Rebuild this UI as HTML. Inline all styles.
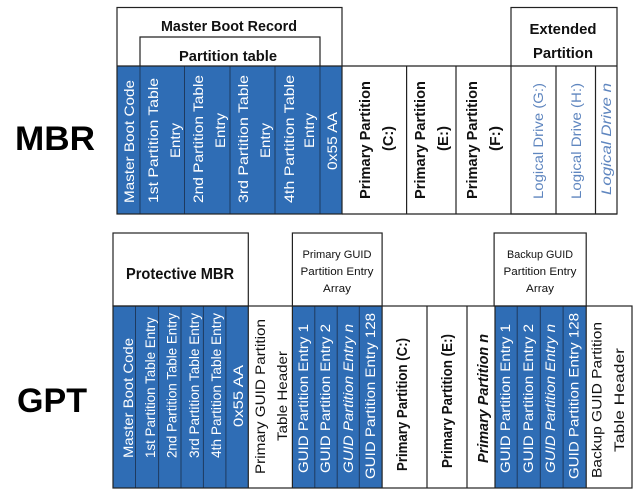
<!DOCTYPE html>
<html><head><meta charset="utf-8"><style>
html,body{margin:0;padding:0;background:#fff;}
svg{display:block;font-family:"Liberation Sans",sans-serif;}
</style></head><body>
<svg width="640" height="497" viewBox="0 0 640 497" xmlns="http://www.w3.org/2000/svg">
<g fill="#000">
<text x="15" y="150" font-size="34" font-weight="bold" textLength="80" lengthAdjust="spacingAndGlyphs">MBR</text>
<text x="17" y="412" font-size="34" font-weight="bold" textLength="70" lengthAdjust="spacingAndGlyphs">GPT</text>
</g>
<!-- MBR -->
<rect x="117" y="66" width="225" height="148" fill="#2f6db5"/>
<g stroke="#1e3a5f" stroke-width="1">
<line x1="140" y1="66" x2="140" y2="214"/><line x1="184.5" y1="66" x2="184.5" y2="214"/>
<line x1="230" y1="66" x2="230" y2="214"/><line x1="275" y1="66" x2="275" y2="214"/>
<line x1="320" y1="66" x2="320" y2="214"/>
</g>
<g stroke="#222" stroke-width="1.2" fill="none">
<rect x="117" y="7.5" width="225" height="206.5"/>
<polyline points="140,66 140,37 320,37 320,66"/>
<line x1="117" y1="66" x2="617" y2="66"/>
<rect x="511" y="7.5" width="106" height="206.5"/>
<line x1="342" y1="214" x2="617" y2="214"/>
<line x1="406.6" y1="66" x2="406.6" y2="214"/><line x1="456" y1="66" x2="456" y2="214"/>
<line x1="556" y1="66" x2="556" y2="214"/><line x1="595.5" y1="66" x2="595.5" y2="214"/>
</g>
<g font-size="15" font-weight="bold" text-anchor="middle" fill="#111">
<text x="229" y="31" textLength="136" lengthAdjust="spacingAndGlyphs">Master Boot Record</text>
<text x="228" y="61" textLength="98" lengthAdjust="spacingAndGlyphs">Partition table</text>
<text x="563" y="34" textLength="67" lengthAdjust="spacingAndGlyphs">Extended</text>
<text x="563" y="58" textLength="60" lengthAdjust="spacingAndGlyphs">Partition</text>
</g>
<g font-size="14" fill="#fff">
<text transform="translate(134,203) rotate(-90)" textLength="123" lengthAdjust="spacingAndGlyphs">Master Boot Code</text>
<text transform="translate(158,203) rotate(-90)" textLength="125" lengthAdjust="spacingAndGlyphs">1st Partition Table</text>
<text transform="translate(180,158) rotate(-90)" textLength="35" lengthAdjust="spacingAndGlyphs">Entry</text>
<text transform="translate(203,203) rotate(-90)" textLength="128" lengthAdjust="spacingAndGlyphs">2nd Partition Table</text>
<text transform="translate(225,148) rotate(-90)" textLength="35" lengthAdjust="spacingAndGlyphs">Entry</text>
<text transform="translate(248,203) rotate(-90)" textLength="128" lengthAdjust="spacingAndGlyphs">3rd Partition Table</text>
<text transform="translate(270,158) rotate(-90)" textLength="35" lengthAdjust="spacingAndGlyphs">Entry</text>
<text transform="translate(294,203) rotate(-90)" textLength="128" lengthAdjust="spacingAndGlyphs">4th Partition Table</text>
<text transform="translate(314,148) rotate(-90)" textLength="35" lengthAdjust="spacingAndGlyphs">Entry</text>
<text transform="translate(337,170) rotate(-90)" textLength="58" lengthAdjust="spacingAndGlyphs">0x55 AA</text>
</g>
<g font-size="15" font-weight="bold" fill="#111">
<text transform="translate(370,199) rotate(-90)" textLength="118" lengthAdjust="spacingAndGlyphs">Primary Partition</text>
<text transform="translate(393,151) rotate(-90)" textLength="25" lengthAdjust="spacingAndGlyphs">(C:)</text>
<text transform="translate(425,199) rotate(-90)" textLength="118" lengthAdjust="spacingAndGlyphs">Primary Partition</text>
<text transform="translate(448,151) rotate(-90)" textLength="25" lengthAdjust="spacingAndGlyphs">(E:)</text>
<text transform="translate(477,199) rotate(-90)" textLength="118" lengthAdjust="spacingAndGlyphs">Primary Partition</text>
<text transform="translate(500,151) rotate(-90)" textLength="25" lengthAdjust="spacingAndGlyphs">(F:)</text>
</g>
<g font-size="14" fill="#5f86bf">
<text transform="translate(543,199) rotate(-90)" textLength="116" lengthAdjust="spacingAndGlyphs">Logical Drive (G:)</text>
<text transform="translate(581,199) rotate(-90)" textLength="116" lengthAdjust="spacingAndGlyphs">Logical Drive (H:)</text>
<text transform="translate(611,195) rotate(-90)" font-style="italic" textLength="112" lengthAdjust="spacingAndGlyphs">Logical Drive n</text>
</g>

<!-- GPT -->
<rect x="113" y="306" width="135.3" height="182" fill="#2f6db5"/>
<rect x="292.4" y="306" width="89.7" height="182" fill="#2f6db5"/>
<rect x="495" y="306" width="91.2" height="182" fill="#2f6db5"/>
<g stroke="#1e3a5f" stroke-width="1">
<line x1="135.5" y1="306" x2="135.5" y2="488"/><line x1="158.6" y1="306" x2="158.6" y2="488"/>
<line x1="181" y1="306" x2="181" y2="488"/><line x1="203.4" y1="306" x2="203.4" y2="488"/>
<line x1="225.9" y1="306" x2="225.9" y2="488"/>
<line x1="314.8" y1="306" x2="314.8" y2="488"/><line x1="337.2" y1="306" x2="337.2" y2="488"/>
<line x1="359.3" y1="306" x2="359.3" y2="488"/>
<line x1="517.2" y1="306" x2="517.2" y2="488"/><line x1="540.3" y1="306" x2="540.3" y2="488"/>
<line x1="563.1" y1="306" x2="563.1" y2="488"/>
</g>
<g stroke="#222" stroke-width="1.2" fill="none">
<rect x="113" y="306" width="519" height="182"/>
<rect x="113" y="233" width="135.3" height="73"/>
<rect x="292.4" y="233" width="89.7" height="73"/>
<rect x="494.1" y="233" width="92.1" height="73"/>
<line x1="248.3" y1="306" x2="248.3" y2="488"/><line x1="292.4" y1="306" x2="292.4" y2="488"/>
<line x1="382.1" y1="306" x2="382.1" y2="488"/><line x1="427" y1="306" x2="427" y2="488"/>
<line x1="467" y1="306" x2="467" y2="488"/><line x1="495" y1="306" x2="495" y2="488"/>
<line x1="586.2" y1="306" x2="586.2" y2="488"/>
</g>
<g text-anchor="middle" fill="#111">
<text x="180" y="279" font-size="16" font-weight="bold" textLength="108" lengthAdjust="spacingAndGlyphs">Protective MBR</text>
<g font-size="11">
<text x="337" y="258" textLength="69" lengthAdjust="spacingAndGlyphs">Primary GUID</text>
<text x="337" y="275" textLength="73" lengthAdjust="spacingAndGlyphs">Partition Entry</text>
<text x="337" y="292" textLength="28" lengthAdjust="spacingAndGlyphs">Array</text>
<text x="540" y="258" textLength="66" lengthAdjust="spacingAndGlyphs">Backup GUID</text>
<text x="540" y="275" textLength="73" lengthAdjust="spacingAndGlyphs">Partition Entry</text>
<text x="540" y="292" textLength="28" lengthAdjust="spacingAndGlyphs">Array</text>
</g>
</g>
<g font-size="14" fill="#fff">
<text transform="translate(133,458) rotate(-90)" textLength="120" lengthAdjust="spacingAndGlyphs">Master Boot Code</text>
<text transform="translate(155,458) rotate(-90)" textLength="141" lengthAdjust="spacingAndGlyphs">1st Partition Table Entry</text>
<text transform="translate(176.5,458) rotate(-90)" textLength="145" lengthAdjust="spacingAndGlyphs">2nd Partition Table Entry</text>
<text transform="translate(199,458) rotate(-90)" textLength="145" lengthAdjust="spacingAndGlyphs">3rd Partition Table Entry</text>
<text transform="translate(221,458) rotate(-90)" textLength="145" lengthAdjust="spacingAndGlyphs">4th Partition Table Entry</text>
<text transform="translate(243,427) rotate(-90)" textLength="62" lengthAdjust="spacingAndGlyphs">0x55 AA</text>
<text transform="translate(308,473) rotate(-90)" textLength="149" lengthAdjust="spacingAndGlyphs">GUID Partition Entry 1</text>
<text transform="translate(330,473) rotate(-90)" textLength="149" lengthAdjust="spacingAndGlyphs">GUID Partition Entry 2</text>
<text transform="translate(353,473) rotate(-90)" font-style="italic" textLength="149" lengthAdjust="spacingAndGlyphs">GUID Partition Entry n</text>
<text transform="translate(375,479) rotate(-90)" textLength="166" lengthAdjust="spacingAndGlyphs">GUID Partition Entry 128</text>
<text transform="translate(510,473) rotate(-90)" textLength="149" lengthAdjust="spacingAndGlyphs">GUID Partition Entry 1</text>
<text transform="translate(533,473) rotate(-90)" textLength="149" lengthAdjust="spacingAndGlyphs">GUID Partition Entry 2</text>
<text transform="translate(555,473) rotate(-90)" font-style="italic" textLength="149" lengthAdjust="spacingAndGlyphs">GUID Partition Entry n</text>
<text transform="translate(578.6,479) rotate(-90)" textLength="166" lengthAdjust="spacingAndGlyphs">GUID Partition Entry 128</text>
</g>
<g font-size="14" fill="#111">
<text transform="translate(265,474) rotate(-90)" textLength="155" lengthAdjust="spacingAndGlyphs">Primary GUID Partition</text>
<text transform="translate(287,441) rotate(-90)" textLength="90" lengthAdjust="spacingAndGlyphs">Table Header</text>
<text transform="translate(601.7,478) rotate(-90)" textLength="156" lengthAdjust="spacingAndGlyphs">Backup GUID Partition</text>
<text transform="translate(624,452) rotate(-90)" textLength="104" lengthAdjust="spacingAndGlyphs">Table Header</text>
<g font-weight="bold" font-size="15">
<text transform="translate(407,471) rotate(-90)" textLength="133" lengthAdjust="spacingAndGlyphs">Primary Partition (C:)</text>
<text transform="translate(452,468) rotate(-90)" textLength="134" lengthAdjust="spacingAndGlyphs">Primary Partition (E:)</text>
<text transform="translate(488,463) rotate(-90)" font-style="italic" textLength="129" lengthAdjust="spacingAndGlyphs">Primary Partition n</text>
</g>
</g>
</svg>
</body></html>
